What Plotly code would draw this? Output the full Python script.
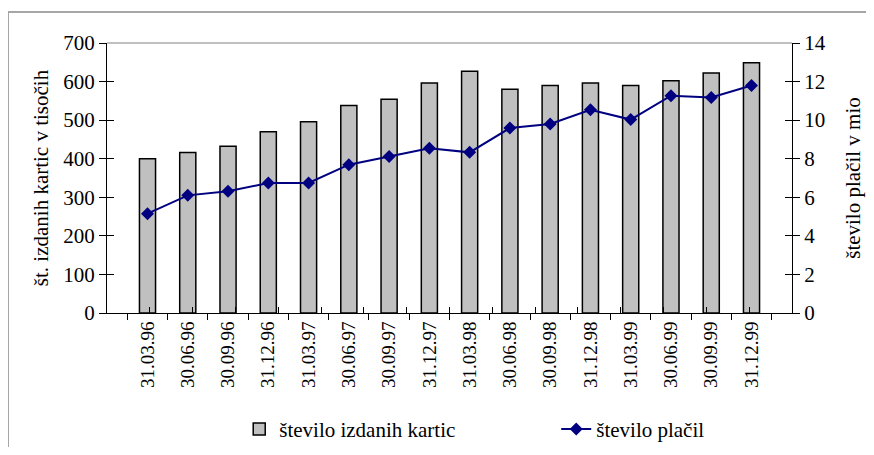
import plotly.graph_objects as go

dates = ["31.03.96", "30.06.96", "30.09.96", "31.12.96", "31.03.97", "30.06.97",
         "30.09.97", "31.12.97", "31.03.98", "30.06.98", "30.09.98", "31.12.98",
         "31.03.99", "30.06.99", "30.09.99", "31.12.99"]
kartice = [400, 416, 432, 470, 496, 538, 554, 596, 627, 580, 590, 596, 590, 602, 622, 649]
placila = [5.15, 6.10, 6.31, 6.74, 6.74, 7.69, 8.12, 8.54, 8.33, 9.59, 9.80, 10.54,
           10.03, 11.27, 11.17, 11.80]
left_ticks = [0, 100, 200, 300, 400, 500, 600, 700]
right_ticks = [0, 2, 4, 6, 8, 10, 12, 14]

FONT = "Liberation Serif, Times New Roman, serif"

W, H = 866, 439
L, R, T, B = 99, 82, 35, 134
PW = W - L - R
PH = H - T - B

n = len(dates)
boundaries = [i - 0.5 for i in range(n + 1)]

fig = go.Figure()
fig.add_trace(go.Bar(
    x=dates, y=kartice, name="število izdanih kartic",
    marker=dict(color="#c0c0c0", line=dict(color="black", width=1.5)),
    yaxis="y",
))
fig.add_trace(go.Scatter(
    x=dates, y=placila, name="število plačil", mode="lines+markers",
    line=dict(color="#000080", width=2),
    marker=dict(symbol="diamond", size=10, color="#000080"),
    yaxis="y2",
))

fig.update_layout(
    width=W, height=H,
    margin=dict(l=L, r=R, t=T, b=B, autoexpand=False),
    paper_bgcolor="white", plot_bgcolor="white",
    font=dict(family=FONT, size=21, color="black"),
    bargap=0.6,
    showlegend=True,
    legend=dict(orientation="h", xref="container", x=0.267, xanchor="left",
                yref="container", y=0.04, yanchor="middle",
                font=dict(size=21), entrywidth=272, entrywidthmode="pixels",
                itemwidth=30, traceorder="normal", bgcolor="rgba(0,0,0,0)"),
    xaxis=dict(
        type="category", showline=True, linecolor="black", linewidth=1,
        ticks="outside", ticklen=6, tickcolor="black", tickson="boundaries",
        tickangle=-90, showgrid=False, zeroline=False, automargin=False,
        tickfont=dict(size=19),
    ),
    xaxis2=dict(
        overlaying="x", anchor="y", range=[-0.5, n - 0.5], tickvals=boundaries,
        ticks="inside", ticklen=6, tickcolor="black", showticklabels=False,
        showline=False, showgrid=False, zeroline=False, automargin=False,
    ),
    yaxis=dict(
        range=[0, 700], tickvals=left_ticks, showline=True, linecolor="black",
        linewidth=1, ticks="outside", ticklen=7, tickcolor="black",
        showgrid=False, zeroline=False, automargin=False,
        title=dict(text="št. izdanih kartic v tisočih", standoff=8, font=dict(size=21)),
    ),
    yaxis2=dict(
        range=[0, 14], tickvals=right_ticks, overlaying="y", side="right",
        showline=True, linecolor="black", linewidth=1, ticks="outside",
        ticklen=7, tickcolor="black", showgrid=False, zeroline=False,
        automargin=False,
        title=dict(text="število plačil v mio", standoff=20, font=dict(size=21)),
    ),
    yaxis3=dict(
        range=[0, 700], tickvals=left_ticks, overlaying="y", side="left", anchor="x",
        ticks="inside", ticklen=7, tickcolor="black", showticklabels=False,
        showline=False, showgrid=False, zeroline=False, automargin=False,
    ),
    yaxis4=dict(
        range=[0, 14], tickvals=right_ticks, overlaying="y", side="right", anchor="x",
        ticks="inside", ticklen=7, tickcolor="black", showticklabels=False,
        showline=False, showgrid=False, zeroline=False, automargin=False,
    ),
    shapes=[
        dict(type="line", xref="paper", yref="paper", x0=0, x1=1, y0=1, y1=1,
             line=dict(color="#808080", width=1)),
        dict(type="line", xref="paper", yref="paper", x0=-L / PW, x1=-L / PW,
             y0=(PH + T - 4) / PH, y1=-B / PH - 0.1, line=dict(color="#a6a6a6", width=2)),
        dict(type="line", xref="paper", yref="paper", x0=-L / PW, x1=1.2,
             y0=(PH + T - 4) / PH, y1=(PH + T - 4) / PH,
             line=dict(color="#a6a6a6", width=2)),
    ],
)

# invisible helper traces so the overlay tick axes are drawn
fig.add_trace(go.Scatter(x=[None], y=[None], xaxis="x2", yaxis="y3",
                         showlegend=False, hoverinfo="skip"))
fig.add_trace(go.Scatter(x=[None], y=[None], xaxis="x", yaxis="y4",
                         showlegend=False, hoverinfo="skip"))

fig.write_html("out.html")
